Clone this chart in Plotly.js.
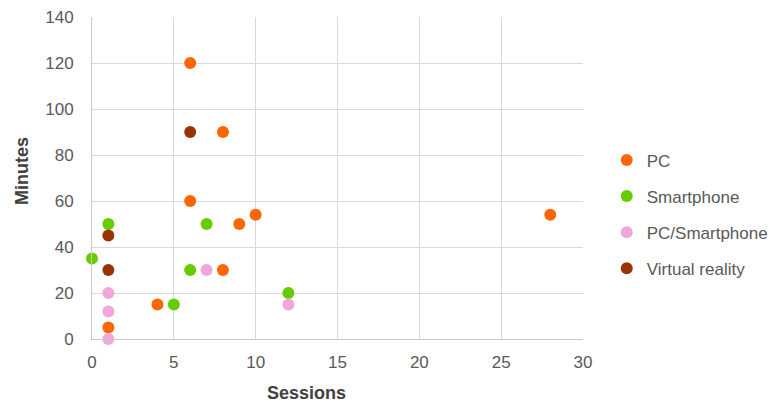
<!DOCTYPE html>
<html>
<head>
<meta charset="utf-8">
<script src="https://cdn.plot.ly/plotly-3.0.1.min.js"></script>
<style>
  html, body { margin: 0; padding: 0; background: #ffffff; }
  #chart { width: 769px; height: 403px; }
</style>
</head>
<body>
<div id="chart"></div>
<script>
// Play sessions vs. minutes played, by device
const pcSessions = [6, 8, 6, 10, 9, 8, 4, 1, 28];
const pcMinutes = [120, 90, 60, 54, 50, 30, 15, 5, 54];

const phoneSessions = [1, 0, 7, 6, 5, 12];
const phoneMinutes = [50, 35, 50, 30, 15, 20];

const mixedSessions = [1, 1, 1, 7, 12];
const mixedMinutes = [20, 12, 0, 30, 15];

const vrSessions = [6, 1, 1];
const vrMinutes = [90, 45, 30];

const seriesNames = ['PC', 'Smartphone', 'PC/Smartphone', 'Virtual reality'];
const seriesColors = ['#FF6600', '#66CC00', '#F2A7DC', '#993300'];

const xTicks = [0, 5, 10, 15, 20, 25, 30];
const yTicks = [0, 20, 40, 60, 80, 100, 120, 140];

const xTitle = 'Sessions';
const yTitle = 'Minutes';

const seriesX = [pcSessions, phoneSessions, mixedSessions, vrSessions];
const seriesY = [pcMinutes, phoneMinutes, mixedMinutes, vrMinutes];

const traces = seriesNames.map((name, i) => ({
  type: 'scatter',
  mode: 'markers',
  name: name,
  legendgroup: 'g' + i,
  x: seriesX[i],
  y: seriesY[i],
  marker: { color: seriesColors[i], size: 12, line: { width: 0 } },
  cliponaxis: false
}));

const fontFamily = 'Liberation Sans, Arial, sans-serif';
const gridColor = '#D9D9D9';
const tickFont = { family: fontFamily, size: 17, color: '#595959' };
const titleFont = { family: fontFamily, size: 18, color: '#404040', weight: 'bold' };

const layout = {
  width: 769,
  height: 403,
  margin: { l: 92, r: 186, t: 17, b: 64 },
  paper_bgcolor: '#ffffff',
  plot_bgcolor: '#ffffff',
  showlegend: true,
  legend: {
    xref: 'container', yref: 'container',
    x: 0.789, xanchor: 'left',
    y: 0.468, yanchor: 'middle',
    font: { family: fontFamily, size: 17, color: '#595959' },
    traceorder: 'grouped',
    tracegroupgap: 11,
    bgcolor: 'rgba(0,0,0,0)'
  },
  xaxis: {
    range: [0, 30],
    tickvals: xTicks,
    ticktext: xTicks.map(String),
    tickfont: tickFont,
    showgrid: true,
    gridcolor: gridColor,
    gridwidth: 1,
    zeroline: false,
    showline: true,
    linecolor: '#C8C8C8',
    linewidth: 1,
    ticks: '',
    ticklabelstandoff: 8,
    fixedrange: true
  },
  yaxis: {
    range: [0, 140],
    tickvals: yTicks,
    ticktext: yTicks.map(String),
    tickfont: tickFont,
    showgrid: true,
    gridcolor: gridColor,
    gridwidth: 1,
    zeroline: false,
    showline: true,
    linecolor: '#C8C8C8',
    linewidth: 1,
    ticks: '',
    ticklabelstandoff: 14,
    fixedrange: true
  },
  annotations: [
    {
      text: '<b>' + xTitle + '</b>',
      xref: 'paper', yref: 'paper',
      x: 0.437, y: -0.168,
      xanchor: 'center', yanchor: 'middle',
      showarrow: false,
      font: titleFont
    },
    {
      text: '<b>' + yTitle + '</b>',
      xref: 'paper', yref: 'paper',
      x: -0.144, y: 0.523,
      xanchor: 'center', yanchor: 'middle',
      textangle: -90,
      showarrow: false,
      font: titleFont
    }
  ]
};

Plotly.newPlot('chart', traces, layout, { staticPlot: true, displayModeBar: false });
</script>
</body>
</html>
